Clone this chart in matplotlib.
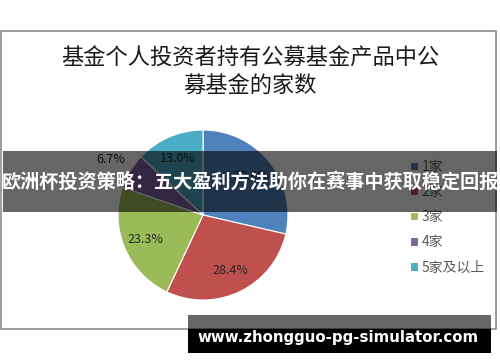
import matplotlib
matplotlib.use("Agg")
import matplotlib.pyplot as plt
from matplotlib.patches import Rectangle

plt.rcParams['font.family'] = ['Noto Sans CJK SC', 'DejaVu Sans']

# data
title = "基金个人投资者持有公募基金产品中公\n募基金的家数"
categories = ["1家", "2家", "3家", "4家", "5家及以上"]
shares = [28.6, 28.4, 23.3, 6.7, 13.0]
colors = ["#4F81BD", "#C0504D", "#9BBB59", "#8064A2", "#4BACC6"]
banner_text = "欧洲杯投资策略：五大盈利方法助你在赛事中获取稳定回报"
watermark = "www.zhongguo-pg-simulator.com"

W, H = 500, 362
fig = plt.figure(figsize=(W / 100, H / 100), dpi=100)

# background axes in pixel coords: chart frame and title
bg = fig.add_axes([0, 0, 1, 1], zorder=0)
bg.set_xlim(0, W)
bg.set_ylim(H, 0)
bg.axis("off")
bg.add_patch(Rectangle((1, 30.5), 495, 298.5, fill=False, edgecolor="#8c8c8c", lw=1.2))
bg.text(250, 72, title, ha="center", va="center", fontsize=16, color="#1a1a1a",
        linespacing=1.3)

# pie
cx, cy, r = 203, 215, 85
ax = fig.add_axes([(cx - r) / W, (H - cy - r) / H, 2 * r / W, 2 * r / H], zorder=1)
pct_dist = 0.73
wedges, _, autotexts = ax.pie(shares, colors=colors, startangle=90, counterclock=False,
                              autopct="%.1f%%", pctdistance=pct_dist,
                              wedgeprops=dict(edgecolor="white", linewidth=0.8),
                              textprops=dict(fontsize=9, color="#262626"))
ax.set_xlim(-1, 1)
ax.set_ylim(-1, 1)
ax.set_aspect("equal")
# the small slice has its label outside the pie
x, y = autotexts[3].get_position()
autotexts[3].set_position((x * 1.27 / pct_dist, y * 1.27 / pct_dist))

leg = ax.legend(wedges, categories, loc="upper left", bbox_to_anchor=(410 / W, 1 - 160 / H),
                bbox_transform=fig.transFigure, frameon=False, fontsize=10,
                handlelength=0.55, handleheight=0.55, handletextpad=0.3,
                labelspacing=0.8, borderpad=0, borderaxespad=0)
for t in leg.get_texts():
    t.set_color("#595959")

# overlays: banner and watermark
top = fig.add_axes([0, 0, 1, 1], zorder=10)
top.set_xlim(0, W)
top.set_ylim(H, 0)
top.axis("off")
top.patch.set_alpha(0)
top.add_patch(Rectangle((3, 151), 494, 61, color="black", alpha=0.6, lw=0))
top.text(250, 181.5, banner_text, ha="center", va="center", fontsize=13.8,
         fontweight="bold", color="white")
top.add_patch(Rectangle((188, 315), 303, 14, color="black", alpha=0.6, lw=0))
top.add_patch(Rectangle((188, 329), 303, 24, color="black", lw=0))
top.text(338, 337.5, watermark, ha="center", va="center", fontsize=10.8,
         fontweight="bold", color="white", family="DejaVu Sans")

fig.savefig("out.png", dpi=100)
